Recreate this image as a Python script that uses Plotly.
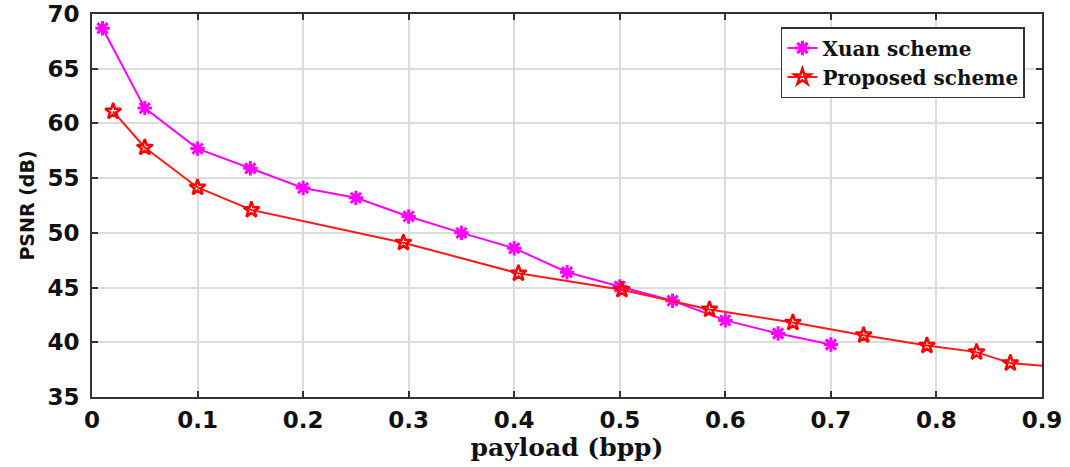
import plotly.graph_objects as go

xuan_x = [0.01, 0.05, 0.10, 0.15, 0.20, 0.25, 0.30, 0.35, 0.40, 0.45, 0.50, 0.55, 0.60, 0.65, 0.70]
xuan_y = [68.7, 61.4, 57.7, 55.9, 54.1, 53.2, 51.5, 50.0, 48.6, 46.4, 45.1, 43.8, 42.0, 40.8, 39.8]

prop_x = [0.02, 0.05, 0.10, 0.151, 0.295, 0.404, 0.502, 0.585, 0.664, 0.731, 0.791, 0.838, 0.870, 0.93]
prop_y = [61.1, 57.8, 54.15, 52.1, 49.1, 46.3, 44.8, 43.0, 41.8, 40.65, 39.7, 39.1, 38.1, 37.6]

x_ticks = [0, 0.1, 0.2, 0.3, 0.4, 0.5, 0.6, 0.7, 0.8, 0.9]
x_labels = ["0", "0.1", "0.2", "0.3", "0.4", "0.5", "0.6", "0.7", "0.8", "0.9"]
y_ticks = [35, 40, 45, 50, 55, 60, 65, 70]

fig = go.Figure()
fig.add_trace(go.Scatter(
    x=xuan_x, y=xuan_y, mode="lines+markers", name="Xuan scheme",
    line=dict(color="#ff00ff", width=2),
    marker=dict(symbol="asterisk-open", size=12, color="#ff00ff",
                line=dict(color="#ff00ff", width=3)),
))
fig.add_trace(go.Scatter(
    x=prop_x, y=prop_y, mode="lines+markers", name="Proposed scheme",
    line=dict(color="#ff1a1a", width=2),
    marker=dict(symbol="star-open", size=12, color="#ff0000",
                line=dict(color="#ff0000", width=2.5)),
))

axis_common = dict(
    showline=True, linecolor="#333333", linewidth=2, mirror="ticks",
    ticks="inside", ticklen=6, tickcolor="#333333", tickwidth=1.5,
    showgrid=True, gridcolor="#dcdcdc", gridwidth=1.5, zeroline=False,
    automargin=False, ticklabeloverflow="allow",
    tickfont=dict(family="DejaVu Sans", size=23, color="#111111", weight="bold"),
)

fig.update_xaxes(
    range=[0, 0.9], tickvals=x_ticks, ticktext=x_labels, ticklabelstandoff=1,
    title=dict(text="payload (bpp)", standoff=4,
               font=dict(family="DejaVu Serif", size=25, color="#111111", weight="bold")),
    **axis_common,
)
fig.update_yaxes(
    range=[35, 70], tickvals=y_ticks, ticklabelstandoff=6,
    title=dict(text="PSNR (dB)", standoff=8,
               font=dict(family="DejaVu Sans", size=19, color="#111111", weight="bold")),
    **axis_common,
)

fig.update_layout(
    width=1070, height=467,
    margin=dict(l=92, r=28, t=14, b=70),
    paper_bgcolor="white", plot_bgcolor="white",
    showlegend=True,
    legend=dict(
        x=0.982, y=0.966, xanchor="right", yanchor="top",
        bgcolor="white", bordercolor="#333333", borderwidth=1.5,
        font=dict(family="DejaVu Serif", size=20, color="#111111", weight="bold"),
        tracegroupgap=0, itemwidth=30,
    ),
)

fig.write_html(
    "out.html",
    config={"displayModeBar": False},
    post_script="document.body.style.margin='0';document.body.style.padding='0';",
)
